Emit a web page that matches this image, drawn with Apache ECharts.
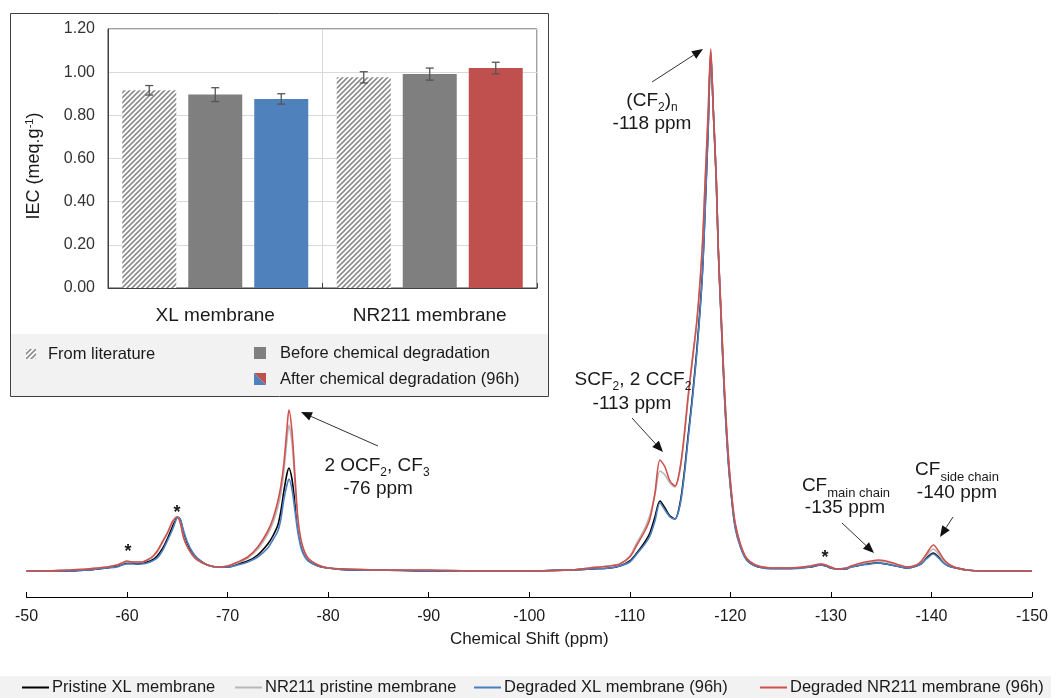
<!DOCTYPE html>
<html>
<head>
<meta charset="utf-8">
<script src="https://cdn.jsdelivr.net/npm/echarts@6/dist/echarts.min.js"></script>
<style>
html,body{margin:0;padding:0;background:#fff;}
#c{width:1051px;height:698px;}
</style>
</head>
<body>
<div id="c"></div>
<script>
// ---- Spectra data (chemical shift in ppm, intensity in arbitrary units) ----
const ppm = [-50,-52,-54,-56,-57,-58,-59,-59.5,-60,-60.5,-61,-61.5,-62,-62.5,-63,-63.5,-64,-64.5,-64.8,-65,-65.3,-65.6,-66,-66.5,-67,-68,-69,-70,-71,-72,-73,-74,-74.5,-75,-75.3,-75.6,-75.9,-76.1,-76.4,-76.7,-77,-77.4,-78,-79,-80,-82,-85,-90,-95,-100,-104,-106,-108,-109,-110,-110.7,-111.5,-112,-112.5,-113,-113.5,-114,-114.5,-115,-115.4,-115.8,-116.2,-116.7,-117.2,-117.5,-117.8,-118.05,-118.3,-118.6,-118.8,-119.1,-119.4,-119.8,-120.2,-120.5,-121,-121.6,-122.5,-124,-126,-128,-129,-129.5,-130,-130.6,-131.5,-132,-133,-134,-134.7,-135.5,-136.5,-137.6,-138.5,-139,-139.5,-140.2,-140.7,-141.2,-141.7,-142.5,-143.5,-145,-150];
const degradedNR211 = [0,0,1,2,3,4,6,8,10,9,9,9,11,14,20,29,38,49,53,54,48,34,24,16,11,6,4,5,9,14,24,40,52,70,85,108,142,161,140,95,52,27,13,6,3,2,1,1,0,0,1,3,5,7,14,26,40,52,78,111,104,90,85,103,135,175,210,254,323,392,461,522,461,392,323,254,185,116,70,47,27,13,6,3,3,5,7,6,4,2,3,5,8,10,11,10,7,4,6,10,17,26,20,12,7,3,1,0,0];
const nr211Pristine = [0,0,1,2,3,4,6,8,9,9,9,9,11,14,19,28,37,48,53,54,48,35,24,16,11,6,4,5,8,13,22,37,48,64,78,100,130,146,128,88,48,25,12,6,3,2,1,1,0,0,1,3,5,7,15,28,43,56,76,100,96,88,84,101,132,172,207,251,320,389,458,520,460,391,322,253,184,115,69,46,26,13,6,3,3,5,7,6,4,2,3,4,7,9,10,9,6,4,6,9,15,22,17,10,6,3,1,0,0];
const pristineXL = [0,0,0,1,2,3,5,6,8,8,7,8,9,11,15,22,32,44,51,54,51,39,27,18,12,6,4,4,7,10,16,27,35,46,60,80,97,103,92,68,43,23,11,5,3,1,1,0,0,0,1,2,3,5,10,18,29,38,54,70,63,55,52,68,97,135,172,225,295,365,445,518,462,392,322,250,180,110,66,44,25,12,5,3,3,4,6,5,3,2,2,4,6,8,8,7,5,3,5,8,13,18,14,9,5,3,1,0,0];
const degradedXL = [0,0,0,1,2,3,4,6,7,7,7,7,8,10,13,20,30,41,49,53,52,41,29,19,13,6,4,4,6,9,14,23,31,40,52,72,86,92,82,60,38,20,10,5,3,1,1,0,0,0,1,2,3,5,9,17,27,35,50,68,61,54,52,66,94,132,169,222,292,362,443,516,462,390,320,248,178,108,65,42,24,11,5,2,2,4,6,5,3,2,2,4,6,7,8,7,5,3,5,7,12,17,13,8,5,3,1,0,0];
const spectraNames = ['Pristine XL membrane','NR211 pristine membrane','Degraded XL membrane (96h)','Degraded NR211 membrane (96h)'];

// ---- Inset (IEC) data ----
const barCategories = ['XL membrane','NR211 membrane'];
const iecLiterature = [0.916, 0.976];
const iecBefore = [0.896, 0.991];
const iecAfter = [0.876, 1.019];
const errLiterature = [0.022, 0.026];
const errBefore = [0.032, 0.028];
const errAfter = [0.024, 0.027];
const barNames = ['From literature','Before chemical degradation','After chemical degradation (96h)'];

const FONT = "'Liberation Sans', Arial, sans-serif";
const TXT = '#1a1a1a';
const colRed = '#d0504c', colBlue = '#4a7ec0', colGray = '#b8b8b8', colBlack = '#000000';
const barGray = '#7f7f7f', barBlue = '#4f81bd', barRed = '#c0504d';

function hatchCanvas(){
  const s = 5;
  const c = document.createElement('canvas'); c.width = s; c.height = s;
  const g = c.getContext('2d');
  g.fillStyle = '#ffffff'; g.fillRect(0,0,s,s);
  g.strokeStyle = '#8c8c8c'; g.lineWidth = 1.6;
  g.beginPath();
  g.moveTo(-1, s+1); g.lineTo(s+1, -1);
  g.moveTo(-1, 1); g.lineTo(1, -1);
  g.moveTo(s-1, s+1); g.lineTo(s+1, s-1);
  g.stroke();
  return c;
}
const hatch = {image: hatchCanvas(), repeat: 'repeat'};

const chart = echarts.init(document.getElementById('c'), null, {renderer:'canvas'});

const lineSeries = [pristineXL, nr211Pristine, degradedXL, degradedNR211].map((arr, k) => ({
  name: spectraNames[k],
  type: 'line',
  xAxisIndex: 0, yAxisIndex: 0,
  data: ppm.map((x, i) => [x, arr[i]]),
  showSymbol: false,
  smooth: 0.3,
  lineStyle: {width: 1.6, color: [colBlack, colGray, colBlue, colRed][k]},
  itemStyle: {color: [colBlack, colGray, colBlue, colRed][k]},
  z: 3 + k,
  animation: false
}));

const BW = 54, BG = 12;
const errData = [];
[[iecLiterature, errLiterature], [iecBefore, errBefore], [iecAfter, errAfter]].forEach((p, s) => {
  p[0].forEach((v, i) => errData.push([i, v, p[1][i], s]));
});

function arrow(x1, y1, x2, y2){
  const L = 11, W = 4.5;
  const dx = x2 - x1, dy = y2 - y1, d = Math.hypot(dx, dy);
  const ux = dx / d, uy = dy / d;
  const bx = x2 - ux * L, by = y2 - uy * L;
  return [
    {type:'line', shape:{x1:x1, y1:y1, x2:bx, y2:by}, style:{stroke:'#333', lineWidth:1}, z:10},
    {type:'polygon', shape:{points:[[x2,y2],[bx - uy*W, by + ux*W],[bx + uy*W, by - ux*W]]}, style:{fill:'#111'}, z:10}
  ];
}
const richBase = {
  a: {fontSize: 19, fontFamily: FONT, fill: TXT, lineHeight: 22},
  s: {fontSize: 12, fontFamily: FONT, fill: TXT, verticalAlign: 'bottom', lineHeight: 12, padding:[0,0,-2,0]},
  t: {fontSize: 13, fontFamily: FONT, fill: TXT, verticalAlign: 'bottom', lineHeight: 13, padding:[0,0,-3,0]}
};
function label(x, y, text){
  return {type:'text', x:x, y:y, z:10, style:{text:text, rich:richBase, align:'center', verticalAlign:'middle', fill:TXT}};
}

const graphics = [
  // bottom legend band
  {type:'rect', shape:{x:0, y:676, width:1051, height:22}, style:{fill:'#f2f2f2'}, z:-1},
  // inset legend band and frame
  {type:'rect', shape:{x:10.5, y:334, width:538, height:62}, style:{fill:'#f2f2f2'}, z:-1},
  {type:'rect', shape:{x:10.5, y:13.5, width:538, height:383}, style:{fill:'none', stroke:'#404040', lineWidth:1}, z:20},
  // inset legend
  {type:'rect', shape:{x:26, y:349, width:10, height:10}, style:{fill:hatch}, z:10},
  {type:'text', x:48, y:354, style:{text:barNames[0], fontSize:16.5, fontFamily:FONT, fill:TXT, verticalAlign:'middle'}, z:10},
  {type:'rect', shape:{x:254, y:347, width:12, height:12}, style:{fill:barGray}, z:10},
  {type:'text', x:280, y:353, style:{text:barNames[1], fontSize:16.5, fontFamily:FONT, fill:TXT, verticalAlign:'middle'}, z:10},
  {type:'polygon', shape:{points:[[254,373],[266,373],[266,385]]}, style:{fill:barRed}, z:10},
  {type:'polygon', shape:{points:[[254,373],[254,385],[266,385]]}, style:{fill:barBlue}, z:10},
  {type:'text', x:280, y:379, style:{text:barNames[2], fontSize:16.5, fontFamily:FONT, fill:TXT, verticalAlign:'middle'}, z:10},
  // inset y axis name
  {type:'text', x:34, y:166, rotation: Math.PI/2, z:10,
    style:{text:'{a|IEC (meq.g}{p|-1}{a|)}', align:'center', verticalAlign:'middle',
      rich:{a:{fontSize:18, fontFamily:FONT, fill:TXT, lineHeight:20}, p:{fontSize:11, fontFamily:FONT, fill:TXT, verticalAlign:'top', lineHeight:11}}}},
  // peak annotations
  label(652, 101, '{a|(CF}{s|2}{a|)}{s|n}'),
  label(652, 124, '{a|-118 ppm}'),
  label(633, 380, '{a|SCF}{s|2}{a|, 2 CCF}{s|2}'),
  label(632, 404, '{a|-113 ppm}'),
  label(377, 466, '{a|2 OCF}{s|2}{a|, CF}{s|3}'),
  label(378, 489, '{a|-76 ppm}'),
  label(846, 486, '{a|CF}{t|main chain}'),
  label(845, 508, '{a|-135 ppm}'),
  label(957, 470, '{a|CF}{t|side chain}'),
  label(957, 493, '{a|-140 ppm}'),
  // asterisks
  {type:'text', x:128, y:552, style:{text:'*', fontSize:18, fontWeight:'bold', fontFamily:FONT, fill:TXT, align:'center', verticalAlign:'middle'}, z:10},
  {type:'text', x:177, y:513, style:{text:'*', fontSize:18, fontWeight:'bold', fontFamily:FONT, fill:TXT, align:'center', verticalAlign:'middle'}, z:10},
  {type:'text', x:825, y:558, style:{text:'*', fontSize:18, fontWeight:'bold', fontFamily:FONT, fill:TXT, align:'center', verticalAlign:'middle'}, z:10}
].concat(arrow(652, 82, 703, 49), arrow(632, 418, 663, 452), arrow(378, 446, 301, 412), arrow(842, 523, 874, 553), arrow(953, 517, 940, 537));

const legendLefts = [22, 235, 474, 760];
const legends = spectraNames.map((n, k) => ({
  data: [n], left: legendLefts[k], top: 679, itemWidth: 27, itemHeight: 2, icon: 'rect',
  itemGap: 0, padding: 0, selectedMode: false,
  textStyle: {fontSize: 16.5, fontFamily: FONT, color: TXT, padding: [0,0,0,-2]}
}));

chart.setOption({
  animation: false,
  backgroundColor: '#ffffff',
  textStyle: {fontFamily: FONT},
  legend: legends,
  grid: [
    {left: 26.5, right: 12.5, top: 0, height: 597},
    {left: 108, top: 29, width: 429, height: 259, show: true, borderColor: '#404040', borderWidth: 1, backgroundColor: 'transparent'}
  ],
  xAxis: [
    {type: 'value', gridIndex: 0, min: -150, max: -50, interval: 10, inverse: true,
      axisLine: {show: true, onZero: false, lineStyle: {color: '#000', width: 1}},
      axisTick: {show: true, inside: true, length: 5, lineStyle: {color: '#000'}},
      axisLabel: {fontSize: 16, fontFamily: FONT, color: TXT, margin: 12},
      splitLine: {show: false},
      name: 'Chemical Shift (ppm)', nameLocation: 'middle', nameGap: 34,
      nameTextStyle: {fontSize: 17, fontFamily: FONT, color: TXT}},
    {type: 'category', gridIndex: 1, data: barCategories,
      axisLine: {show: true, lineStyle: {color: '#404040'}},
      axisTick: {show: true, inside: true, length: 5, lineStyle: {color: '#404040'}},
      axisLabel: {fontSize: 19, fontFamily: FONT, color: TXT, margin: 18},
      splitLine: {show: true, lineStyle: {color: '#d9d9d9'}}}
  ],
  yAxis: [
    {type: 'value', gridIndex: 0, min: -26, max: 571, show: false},
    {type: 'value', gridIndex: 1, min: 0, max: 1.2, interval: 0.2,
      axisLine: {show: true, lineStyle: {color: '#404040'}},
      axisTick: {show: false},
      axisLabel: {fontSize: 16, fontFamily: FONT, color: '#333', margin: 13, formatter: v => v.toFixed(2)},
      splitLine: {show: true, lineStyle: {color: '#d9d9d9'}}}
  ],
  graphic: graphics,
  series: lineSeries.concat([
    {name: barNames[0], type: 'bar', xAxisIndex: 1, yAxisIndex: 1, data: iecLiterature,
      barWidth: BW, barGap: (BG / BW * 100) + '%', itemStyle: {color: hatch}, z: 3},
    {name: barNames[1], type: 'bar', xAxisIndex: 1, yAxisIndex: 1, data: iecBefore,
      barWidth: BW, itemStyle: {color: barGray}, z: 3},
    {name: barNames[2], type: 'bar', xAxisIndex: 1, yAxisIndex: 1,
      data: iecAfter.map((v, i) => ({value: v, itemStyle: {color: i === 0 ? barBlue : barRed}})),
      barWidth: BW, z: 3},
    {name: 'error', type: 'custom', xAxisIndex: 1, yAxisIndex: 1, data: errData, z: 5,
      renderItem: function(params, api){
        const cat = api.value(0), v = api.value(1), e = api.value(2), s = api.value(3);
        const c = api.coord([cat, v]);
        const x = c[0] + (s - 1) * (BW + BG);
        const yt = api.coord([cat, v + e])[1], yb = api.coord([cat, v - e])[1];
        const st = {stroke: '#555', lineWidth: 1.3};
        return {type: 'group', children: [
          {type: 'line', shape: {x1: x, y1: yt, x2: x, y2: yb}, style: st},
          {type: 'line', shape: {x1: x - 4, y1: yt, x2: x + 4, y2: yt}, style: st},
          {type: 'line', shape: {x1: x - 4, y1: yb, x2: x + 4, y2: yb}, style: st}
        ]};
      }}
  ])
});
</script>
</body>
</html>
